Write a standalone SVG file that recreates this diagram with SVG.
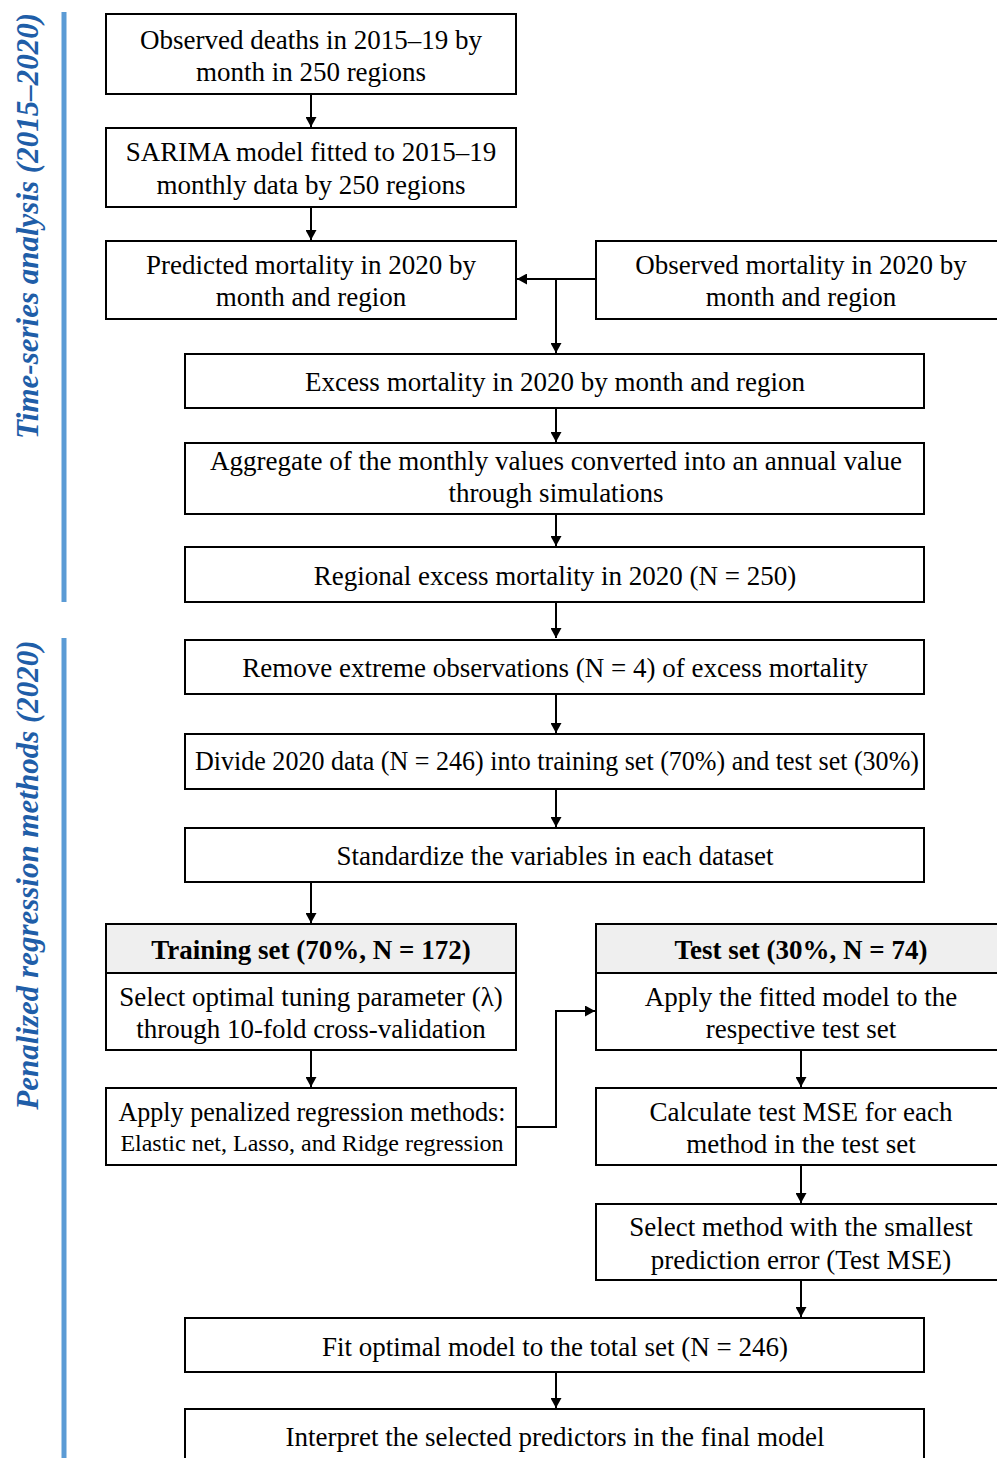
<svg xmlns="http://www.w3.org/2000/svg" width="997" height="1458" viewBox="0 0 997 1458">
<style>
.b{fill:#fff;stroke:#000;stroke-width:2}
.h{fill:#efefef;stroke:#000;stroke-width:2}
.t{font-family:"Liberation Serif","Times New Roman",serif;font-size:27px;fill:#000;text-anchor:middle;dominant-baseline:central}
.tb{font-weight:bold}
.s{font-family:"Liberation Serif","Times New Roman",serif;font-size:31px;font-weight:bold;font-style:italic;fill:#1f5ea8;text-anchor:middle;dominant-baseline:central}
.bar{stroke:#5b9bd5;stroke-width:5}
.c{fill:none;stroke:#000;stroke-width:2}
</style>
<defs>
<marker id="a" viewBox="0 0 10 11" refX="10" refY="5.5" markerWidth="10" markerHeight="11" markerUnits="userSpaceOnUse" orient="auto"><path d="M0,0L10,5.5L0,11z" fill="#000"/></marker>
</defs>
<rect width="997" height="1458" fill="#fff"/>
<g id="side">
<line class="bar" x1="64" y1="12" x2="64" y2="602"/>
<line class="bar" x1="64" y1="638" x2="64" y2="1458"/>
<text class="s" transform="translate(27,226) rotate(-90)">Time-series analysis (2015–2020)</text>
<text class="s" transform="translate(27,875) rotate(-90)">Penalized regression methods (2020)</text>
</g>
<g id="connectors">
<path class="c" d="M311,94V127" marker-end="url(#a)"/>
<path class="c" d="M311,207V240" marker-end="url(#a)"/>
<path class="c" d="M596,279H517" marker-end="url(#a)"/>
<path class="c" d="M556,279V353" marker-end="url(#a)"/>
<path class="c" d="M556,408V442" marker-end="url(#a)"/>
<path class="c" d="M556,514V546" marker-end="url(#a)"/>
<path class="c" d="M556,602V638" marker-end="url(#a)"/>
<path class="c" d="M556,694V733" marker-end="url(#a)"/>
<path class="c" d="M556,789V827" marker-end="url(#a)"/>
<path class="c" d="M311,882V923" marker-end="url(#a)"/>
<path class="c" d="M311,1050V1087" marker-end="url(#a)"/>
<path class="c" d="M801,1050V1087" marker-end="url(#a)"/>
<path class="c" d="M516,1127H556V1011H595" marker-end="url(#a)"/>
<path class="c" d="M801,1165V1203" marker-end="url(#a)"/>
<path class="c" d="M801,1280V1317" marker-end="url(#a)"/>
<path class="c" d="M556,1372V1408" marker-end="url(#a)"/>
</g>
<g id="n1"><rect class="b" x="106" y="14" width="410" height="80"/><text class="t" x="311" y="40">Observed deaths in 2015–19 by</text><text class="t" x="311" y="72">month in 250 regions</text></g>
<g id="n2"><rect class="b" x="106" y="128" width="410" height="79"/><text class="t" x="311" y="152">SARIMA model fitted to 2015–19</text><text class="t" x="311" y="185">monthly data by 250 regions</text></g>
<g id="n3"><rect class="b" x="106" y="241" width="410" height="78"/><text class="t" x="311" y="265">Predicted mortality in 2020 by</text><text class="t" x="311" y="297">month and region</text></g>
<g id="n4"><rect class="b" x="596" y="241" width="410" height="78"/><text class="t" x="801" y="265">Observed mortality in 2020 by</text><text class="t" x="801" y="297">month and region</text></g>
<g id="n5"><rect class="b" x="185" y="354" width="739" height="54"/><text class="t" x="555" y="382">Excess mortality in 2020 by month and region</text></g>
<g id="n6"><rect class="b" x="185" y="443" width="739" height="71"/><text class="t" x="556" y="461">Aggregate of the monthly values converted into an annual value</text><text class="t" x="556" y="493">through simulations</text></g>
<g id="n7"><rect class="b" x="185" y="547" width="739" height="55"/><text class="t" x="555" y="576">Regional excess mortality in 2020 (N = 250)</text></g>
<g id="n8"><rect class="b" x="185" y="640" width="739" height="54"/><text class="t" x="555" y="668">Remove extreme observations (N = 4) of excess mortality</text></g>
<g id="n9"><rect class="b" x="185" y="734" width="739" height="55"/><text class="t" x="557" y="761" textLength="724" lengthAdjust="spacingAndGlyphs">Divide 2020 data (N = 246) into training set (70%) and test set (30%)</text></g>
<g id="n10"><rect class="b" x="185" y="828" width="739" height="54"/><text class="t" x="555" y="856">Standardize the variables in each dataset</text></g>
<g id="n11"><rect class="b" x="106" y="924" width="410" height="126"/><rect class="h" x="106" y="924" width="410" height="49"/><text class="t tb" x="311" y="950">Training set (70%, N = 172)</text><text class="t" x="311" y="997">Select optimal tuning parameter (λ)</text><text class="t" x="311" y="1029">through 10-fold cross-validation</text></g>
<g id="n12"><rect class="b" x="596" y="924" width="410" height="126"/><rect class="h" x="596" y="924" width="410" height="49"/><text class="t tb" x="801" y="950">Test set (30%, N = 74)</text><text class="t" x="801" y="997">Apply the fitted model to the</text><text class="t" x="801" y="1029">respective test set</text></g>
<g id="n13"><rect class="b" x="106" y="1088" width="410" height="77"/><text class="t" x="312" y="1112" textLength="387" lengthAdjust="spacingAndGlyphs">Apply penalized regression methods:</text><text class="t" x="312" y="1143" style="font-size:24px">Elastic net, Lasso, and Ridge regression</text></g>
<g id="n14"><rect class="b" x="596" y="1088" width="410" height="77"/><text class="t" x="801" y="1112">Calculate test MSE for each</text><text class="t" x="801" y="1144">method in the test set</text></g>
<g id="n15"><rect class="b" x="596" y="1204" width="410" height="76"/><text class="t" x="801" y="1227">Select method with the smallest</text><text class="t" x="801" y="1260">prediction error (Test MSE)</text></g>
<g id="n16"><rect class="b" x="185" y="1318" width="739" height="54"/><text class="t" x="555" y="1347">Fit optimal model to the total set (N = 246)</text></g>
<g id="n17"><rect class="b" x="185" y="1409" width="739" height="70"/><text class="t" x="555" y="1437">Interpret the selected predictors in the final model</text></g>
</svg>
